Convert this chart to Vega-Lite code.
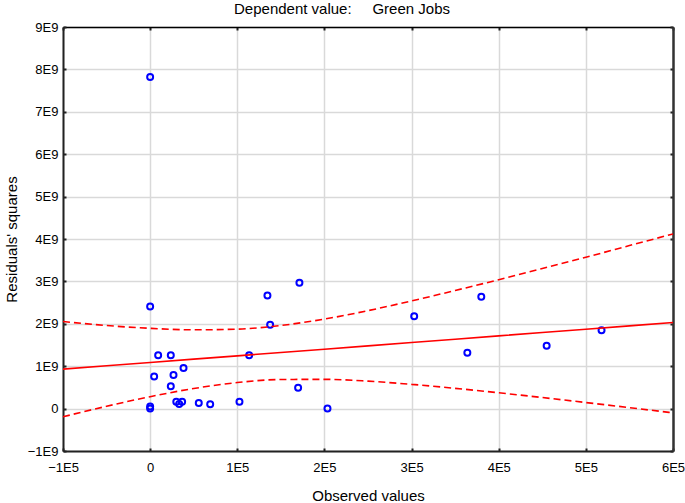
{
  "$schema": "https://vega.github.io/schema/vega-lite/v6.json",
  "width": 610,
  "height": 424,
  "autosize": {"type": "none"},
  "padding": {"left": 63, "top": 27, "right": 12, "bottom": 52},
  "background": "white",
  "title": {
    "text": "Dependent value:\u00a0\u00a0\u00a0\u00a0 Green Jobs",
    "font": "Liberation Sans",
    "fontSize": 15,
    "fontWeight": "normal",
    "color": "#000000",
    "anchor": "middle",
    "dx": -26,
    "offset": 4
  },
  "config": {
    "view": {"stroke": null},
    "axis": {
      "labelFont": "Liberation Sans",
      "labelFontSize": 13,
      "labelColor": "#000000",
      "titleFont": "Liberation Sans",
      "titleFontSize": 15,
      "titleFontWeight": "normal",
      "titleColor": "#000000",
      "domainColor": "#222222",
      "domainWidth": 2,
      "tickColor": "#222222",
      "tickWidth": 2,
      "tickSize": -3,
      "gridColor": "#d9d9d9",
      "gridWidth": 1.5
    }
  },
  "datasets": {
    "pts": [
      {"x": 0, "y": 7820000000},
      {"x": 0, "y": 2410000000},
      {"x": 0, "y": 50000000},
      {"x": 0, "y": 0},
      {"x": 4600, "y": 760000000},
      {"x": 9200, "y": 1260000000},
      {"x": 23700, "y": 1260000000},
      {"x": 23700, "y": 530000000},
      {"x": 26800, "y": 790000000},
      {"x": 30000, "y": 160000000},
      {"x": 33300, "y": 110000000},
      {"x": 36700, "y": 160000000},
      {"x": 38300, "y": 960000000},
      {"x": 55800, "y": 130000000},
      {"x": 68900, "y": 100000000},
      {"x": 102500, "y": 160000000},
      {"x": 113600, "y": 1260000000},
      {"x": 134600, "y": 2670000000},
      {"x": 137700, "y": 1980000000},
      {"x": 169800, "y": 490000000},
      {"x": 171300, "y": 2970000000},
      {"x": 203500, "y": 0},
      {"x": 303000, "y": 2180000000},
      {"x": 364000, "y": 1320000000},
      {"x": 380000, "y": 2640000000},
      {"x": 455000, "y": 1480000000},
      {"x": 518000, "y": 1850000000}
    ],
    "fit": [
      {"x": -100000, "fit": 930000000, "upper": 2053000000, "lower": -193000000},
      {"x": -50000, "fit": 1009000000, "upper": 1960000000, "lower": 55000000},
      {"x": 0, "fit": 1087000000, "upper": 1893000000, "lower": 281000000},
      {"x": 50000, "fit": 1166000000, "upper": 1858000000, "lower": 474000000},
      {"x": 100000, "fit": 1244000000, "upper": 1874000000, "lower": 614000000},
      {"x": 150000, "fit": 1323000000, "upper": 1960000000, "lower": 686000000},
      {"x": 200000, "fit": 1401000000, "upper": 2112000000, "lower": 690000000},
      {"x": 250000, "fit": 1480000000, "upper": 2310000000, "lower": 647000000},
      {"x": 300000, "fit": 1558000000, "upper": 2540000000, "lower": 572000000},
      {"x": 350000, "fit": 1637000000, "upper": 2785000000, "lower": 478000000},
      {"x": 400000, "fit": 1715000000, "upper": 3040000000, "lower": 373000000},
      {"x": 450000, "fit": 1794000000, "upper": 3305000000, "lower": 261000000},
      {"x": 500000, "fit": 1872000000, "upper": 3570000000, "lower": 143000000},
      {"x": 550000, "fit": 1951000000, "upper": 3845000000, "lower": 23000000},
      {"x": 600000, "fit": 2030000000, "upper": 4120000000, "lower": -101000000}
    ]
  },
  "resolve": {"axis": {"x": "independent", "y": "independent"}},
  "layer": [
    {
      "data": {"name": "pts"},
      "mark": {"type": "point", "filled": false, "color": "#0000ff", "strokeWidth": 2, "size": 36, "opacity": 1},
      "encoding": {
        "x": {
          "field": "x", "type": "quantitative",
          "scale": {"domain": [-100000, 600000], "nice": false, "zero": false},
          "axis": {
            "orient": "bottom",
            "values": [-100000, 0, 100000, 200000, 300000, 400000, 500000, 600000],
            "labelExpr": "datum.value == 0 ? '0' : format(datum.value / 100000, 'd') + 'E5'",
            "labelPadding": 13,
            "labelFlush": false,
            "labelOverlap": false,
            "grid": true,
            "title": "Observed values",
            "titleY": 49,
            "titleBaseline": "alphabetic"
          }
        },
        "y": {
          "field": "y", "type": "quantitative",
          "scale": {"domain": [-1000000000, 9000000000], "nice": false, "zero": false},
          "axis": {
            "orient": "left",
            "values": [-1000000000, 0, 1000000000, 2000000000, 3000000000, 4000000000, 5000000000, 6000000000, 7000000000, 8000000000, 9000000000],
            "labelExpr": "datum.value == 0 ? '0' : format(datum.value / 1000000000, 'd') + 'E9'",
            "labelPadding": 8,
            "labelFlush": false,
            "labelOverlap": false,
            "grid": true,
            "title": "Residuals' squares",
            "titleX": -47,
            "titleBaseline": "alphabetic"
          }
        }
      }
    },
    {
      "data": {"name": "fit"},
      "mark": {"type": "line", "color": "#ff0000", "strokeWidth": 1.6},
      "encoding": {
        "x": {
          "field": "x", "type": "quantitative",
          "axis": {
            "orient": "top",
            "values": [-100000, 0, 100000, 200000, 300000, 400000, 500000, 600000],
            "labels": false, "grid": false, "title": null, "domainWidth": 1.5, "domainColor": "#000000"
          }
        },
        "y": {
          "field": "fit", "type": "quantitative",
          "axis": {
            "orient": "right",
            "values": [-1000000000, 0, 1000000000, 2000000000, 3000000000, 4000000000, 5000000000, 6000000000, 7000000000, 8000000000, 9000000000],
            "labels": false, "grid": false, "title": null, "domainWidth": 2.5, "domainColor": "#333333"
          }
        }
      }
    },
    {
      "data": {"name": "fit"},
      "mark": {"type": "line", "color": "#ff0000", "strokeWidth": 1.6, "strokeDash": [7, 4], "interpolate": "monotone"},
      "encoding": {
        "x": {"field": "x", "type": "quantitative", "axis": null},
        "y": {"field": "upper", "type": "quantitative", "axis": null}
      }
    },
    {
      "data": {"name": "fit"},
      "mark": {"type": "line", "color": "#ff0000", "strokeWidth": 1.6, "strokeDash": [7, 4], "interpolate": "monotone"},
      "encoding": {
        "x": {"field": "x", "type": "quantitative", "axis": null},
        "y": {"field": "lower", "type": "quantitative", "axis": null}
      }
    }
  ]
}
